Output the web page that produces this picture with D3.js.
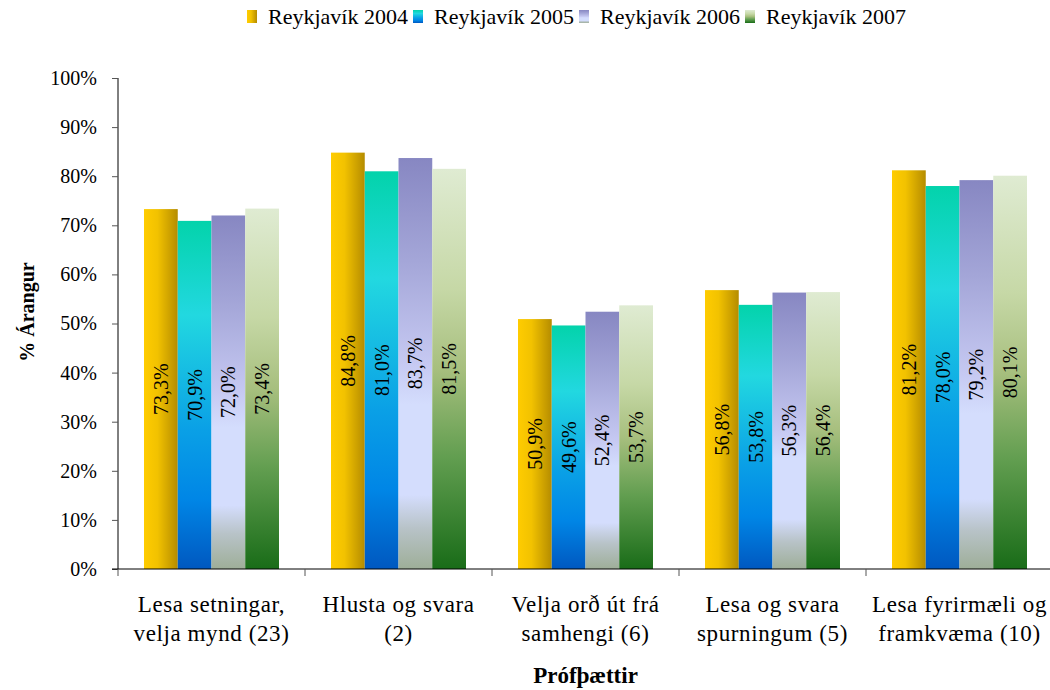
<!DOCTYPE html>
<html>
<head>
<meta charset="utf-8">
<script src="https://cdn.jsdelivr.net/npm/d3@7"></script>
<style>
  body { margin: 0; background: #fff; }
  text { font-family: "Liberation Serif", "Times New Roman", serif; }
</style>
</head>
<body>
<div id="my_dataviz"></div>
<script>
const categories = [
  ["Lesa setningar,", "velja mynd (23)"],
  ["Hlusta og svara", "(2)"],
  ["Velja orð út frá", "samhengi (6)"],
  ["Lesa og svara", "spurningum (5)"],
  ["Lesa fyrirmæli og", "framkvæma (10)"]
];
const series = ["Reykjavík 2004", "Reykjavík 2005", "Reykjavík 2006", "Reykjavík 2007"];
const values2004 = [73.3, 84.8, 50.9, 56.8, 81.2];
const values2005 = [70.9, 81.0, 49.6, 53.8, 78.0];
const values2006 = [72.0, 83.7, 52.4, 56.3, 79.2];
const values2007 = [73.4, 81.5, 53.7, 56.4, 80.1];
const yTicks = [0, 10, 20, 30, 40, 50, 60, 70, 80, 90, 100];

const allValues = [values2004, values2005, values2006, values2007];

let margin = { top: 78, right: -3, bottom: 121, left: 118 },
  width = 1050 - margin.left - margin.right,
  height = 690 - margin.top - margin.bottom;

let root = d3.select("#my_dataviz")
  .append("svg")
  .attr("width", 1050)
  .attr("height", 690);

// gradients for each series
let defs = root.append("defs");
const grads = [
  { dir: "h", stops: [[0, "#ffcc00"], [0.4, "#f2c200"], [1, "#b58c00"]] },
  { dir: "v", stops: [[0, "#03d3ab"], [0.27, "#22d8e0"], [0.6, "#0aa0e6"], [0.8, "#0086e6"], [1, "#0058c0"]] },
  { dir: "v", stops: [[0, "#8787c2"], [0.25, "#a4a6d8"], [0.5, "#c6c9f2"], [0.6, "#d4ddfd"], [0.82, "#d4ddfd"], [0.9, "#b8c3c8"], [1, "#9eae98"]] },
  { dir: "v", stops: [[0, "#dfebd2"], [0.3, "#c6d8a6"], [0.5, "#a7bf7e"], [0.72, "#629e50"], [1, "#196c18"]] }
];
grads.forEach((g, i) => {
  let lg = defs.append("linearGradient")
    .attr("id", "grad" + i)
    .attr("x1", 0).attr("y1", 0)
    .attr("x2", g.dir === "h" ? 1 : 0)
    .attr("y2", g.dir === "h" ? 0 : 1);
  g.stops.forEach(s => {
    lg.append("stop").attr("offset", s[0]).attr("stop-color", s[1]);
  });
});

let svg = root.append("g")
  .attr("transform", "translate(" + margin.left + "," + margin.top + ")");

let x0 = d3.scaleBand()
  .domain(d3.range(categories.length))
  .range([0, width])
  .padding(0);

let x1 = d3.scaleBand()
  .domain(d3.range(series.length))
  .range([26, x0.bandwidth() - 26]);

let y = d3.scaleLinear()
  .domain([0, 100])
  .range([height, 0]);

// bars
let groups = svg.append("g")
  .selectAll("g")
  .data(categories)
  .enter()
  .append("g")
  .attr("transform", (d, i) => "translate(" + x0(i) + ",0)");

groups.each(function (d, ci) {
  let g = d3.select(this);
  series.forEach((s, si) => {
    let v = allValues[si][ci];
    g.append("rect")
      .attr("x", x1(si))
      .attr("y", y(v))
      .attr("width", x1.bandwidth())
      .attr("height", height - y(v))
      .attr("fill", "url(#grad" + si + ")");
    let cx = x1(si) + x1.bandwidth() / 2;
    let cy = (y(v) + height) / 2;
    g.append("text")
      .attr("transform", "translate(" + cx + "," + cy + ") rotate(-90)")
      .attr("text-anchor", "middle")
      .attr("dy", "0.35em")
      .style("font-size", "20px")
      .attr("fill", "#000")
      .text(v.toFixed(1).replace(".", ",") + "%");
  });
});

// y axis
let yAxisCall = d3.axisLeft(y)
  .tickValues(yTicks)
  .tickSize(6)
  .tickPadding(15)
  .tickFormat(d => d + "%");
let yAxis = svg.append("g")
  .attr("class", "y-axis")
  .call(yAxisCall);
yAxis.select(".domain").attr("stroke", "#000").attr("d", "M0," + height + "V0");
yAxis.selectAll(".tick line").attr("stroke", "#555");
yAxis.selectAll("text").style("font-size", "20px").attr("fill", "#000")
  .style("font-family", "'Liberation Serif', 'Times New Roman', serif");

// x axis
let xAxis = svg.append("g")
  .attr("class", "x-axis")
  .attr("transform", "translate(0," + height + ")");
xAxis.append("line")
  .attr("x1", -6).attr("x2", width)
  .attr("stroke", "#000");
xAxis.selectAll(".xtick")
  .data(d3.range(categories.length + 1))
  .enter()
  .append("line")
  .attr("x1", d => d * x0.step())
  .attr("x2", d => d * x0.step())
  .attr("y1", 0).attr("y2", 7)
  .attr("stroke", "#555");

xAxis.selectAll(".xlabel")
  .data(categories)
  .enter()
  .append("text")
  .attr("text-anchor", "middle")
  .attr("x", (d, i) => x0(i) + x0.bandwidth() / 2)
  .attr("y", 43)
  .style("font-size", "23px")
  .style("letter-spacing", "0.6px")
  .each(function (d) {
    let t = d3.select(this);
    d.forEach((line, li) => {
      t.append("tspan")
        .attr("x", t.attr("x"))
        .attr("dy", li === 0 ? 0 : 29)
        .text(line);
    });
  });

// axis titles
root.append("text")
  .attr("transform", "translate(" + (margin.left + width / 2) + ",683)")
  .style("text-anchor", "middle")
  .style("font-size", "23px")
  .style("font-weight", "bold")
  .text("Prófþættir");

root.append("text")
  .attr("transform", "translate(34,312) rotate(-90)")
  .style("text-anchor", "middle")
  .style("font-size", "20px")
  .style("font-weight", "bold")
  .text("% Árangur");

// legend
let legend = root.append("g")
  .selectAll("g")
  .data(series)
  .enter()
  .append("g")
  .attr("transform", (d, i) => "translate(" + (247 + i * 166) + ",10)");
legend.append("rect")
  .attr("width", 10)
  .attr("height", 13)
  .attr("fill", (d, i) => "url(#grad" + i + ")");
legend.append("text")
  .attr("x", 21)
  .attr("y", 14)
  .style("font-size", "22px")
  .text(d => d);
</script>
</body>
</html>
